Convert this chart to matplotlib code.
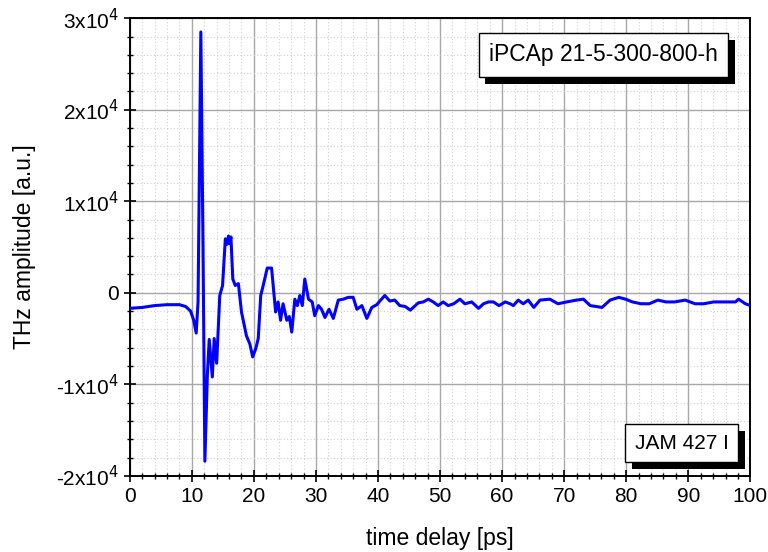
import numpy as np
import matplotlib
matplotlib.use("Agg")
import matplotlib.pyplot as plt
from matplotlib import patheffects
from matplotlib.ticker import MultipleLocator, FuncFormatter

plt.rcParams["font.family"] = ["Liberation Sans", "DejaVu Sans"]

# time delay [ps] and THz amplitude [a.u.]
t = [0, 2, 4, 6, 8, 9, 9.8, 10.3, 10.7, 11.0, 11.45, 11.8, 12.1, 12.5, 12.8, 13.3, 13.6, 14.0,
     14.5, 14.95, 15.4, 15.7, 15.9, 16.1, 16.3, 16.6, 17.0, 17.5, 18.0, 18.8, 19.35, 19.8, 20.3,
     20.7, 21.1, 21.5, 22.15, 22.85, 23.5, 23.9, 24.3, 24.7, 25.3, 25.7, 26.1, 26.6, 27.0, 27.4,
     27.8, 28.2, 28.8, 29.4, 29.8, 30.4, 30.9, 31.45, 32.1, 32.8, 33.6, 34.4, 35.2, 36.0, 36.6,
     37.4, 38.2, 39.0, 39.8, 40.3, 41.1, 41.9, 42.7, 43.5, 44.4, 45.2, 46.0, 46.5, 47.3, 48.1,
     48.9, 49.7, 50.5, 51.3, 52.2, 53.2, 54.0, 55.1, 56.2, 57.0, 57.8, 58.6, 59.5, 60.5, 61.3,
     61.8, 62.6, 63.4, 64.2, 65.1, 66.1, 67.7, 69.0, 70.4, 72.0, 73.1, 74.2, 76.1, 77.4, 78.8,
     79.9, 81.0, 82.4, 83.7, 85.1, 86.4, 87.8, 89.5, 91.1, 92.5, 94.1, 96.0, 97.6, 98.1, 99.2, 100]
amp = [-1700, -1600, -1400, -1300, -1300, -1500, -2000, -3000, -4400, -1000, 28500, 5000, -18400,
       -9000, -5100, -9200, -5000, -7700, -300, 800, 5900, 5300, 6200, 5400, 6100, 1500, 800, 1000,
       -2100, -4700, -5600, -7000, -6100, -5000, -300, 800, 2700, 2700, -2100, -1000, -3000, -1200,
       -3000, -2600, -4300, -700, -1400, -300, -1400, 1500, -700, -1000, -2500, -1400, -1800, -2700,
       -1800, -2800, -800, -700, -500, -500, -1800, -1400, -2800, -1600, -1300, -900, -300, -900,
       -800, -1400, -1500, -1900, -1400, -1100, -1000, -700, -1000, -1400, -1000, -1400, -1200, -700,
       -1200, -1000, -1700, -1200, -1000, -1000, -1400, -1000, -1200, -1400, -800, -1200, -800,
       -1600, -800, -700, -1200, -1000, -800, -700, -1400, -1600, -800, -500, -700, -1000, -1200,
       -1200, -800, -1000, -1000, -800, -1200, -1200, -1000, -1000, -1000, -700, -1200, -1400]

sample = "iPCAp 21-5-300-800-h"
emitter = "JAM 427 I"

fig = plt.figure(figsize=(7.68, 5.52), dpi=100)
ax = fig.add_axes([0.169, 0.138, 0.808, 0.829])
ax.plot(t, amp, color="#0000ff", lw=2.2, zorder=3)

ax.set_xlim(0, 100)
ax.set_ylim(-20000, 30000)
ax.xaxis.set_major_locator(MultipleLocator(10))
ax.xaxis.set_minor_locator(MultipleLocator(2))
ax.yaxis.set_major_locator(MultipleLocator(10000))
ax.yaxis.set_minor_locator(MultipleLocator(2000))

def yfmt(v, pos):
    n = int(round(v / 10000))
    return "0" if n == 0 else f"{n}x10$^4$"
ax.yaxis.set_major_formatter(FuncFormatter(yfmt))

ax.grid(which="major", color="#a8a8a8", lw=1.0, zorder=0)
ax.grid(which="minor", color="#d0d0d0", lw=0.8, ls=(0, (1, 2)), zorder=0)
ax.tick_params(which="major", direction="inout", length=9, width=1.2, labelsize=15,
               top=False, right=False)
ax.tick_params(which="minor", direction="inout", length=5, width=1.0, top=False, right=False)
for s in ax.spines.values():
    s.set_linewidth(1.4)

ax.set_xlabel("time delay [ps]", fontsize=16.5, labelpad=15)
ax.set_ylabel("THz amplitude [a.u.]", fontsize=16.5, labelpad=14)

shadow = [patheffects.withSimplePatchShadow(offset=(5, -5), shadow_rgbFace="k", alpha=1.0)]
for txt, xa, ya, fs in [(sample, 0.763, 0.920, 16.5), (emitter, 0.889, 0.071, 15)]:
    tb = ax.text(xa, ya, txt, transform=ax.transAxes, ha="center", va="center", fontsize=fs,
                 zorder=5, bbox=dict(boxstyle="square,pad=0.45", fc="white", ec="black", lw=1.0))
    tb.get_bbox_patch().set_path_effects(shadow)

fig.savefig("out.png", dpi=100)
